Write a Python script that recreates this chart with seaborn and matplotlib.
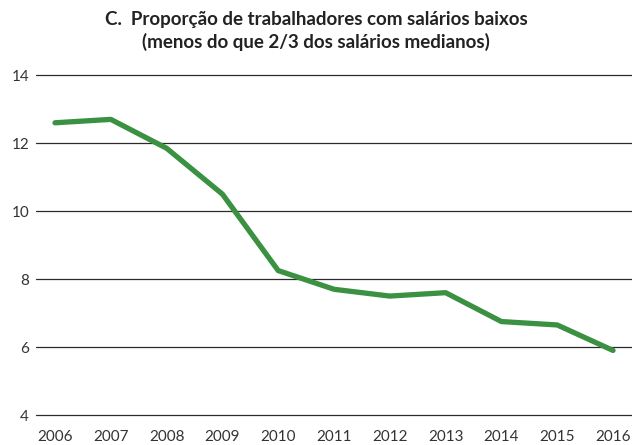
import matplotlib
matplotlib.use("Agg")
import matplotlib.pyplot as plt
import seaborn as sns
import pandas as pd

# Share of workers earning less than two thirds of the median wage (%)
years = [2006, 2007, 2008, 2009, 2010, 2011, 2012, 2013, 2014, 2015, 2016]
low_pay_share = [12.6, 12.7, 11.85, 10.5, 8.25, 7.7, 7.5, 7.6, 6.75, 6.65, 5.9]
y_ticks = [4, 6, 8, 10, 12, 14]

title = ("C.  Proporção de trabalhadores com salários baixos\n"
         "(menos do que 2/3 dos salários medianos)")

sns.set_theme(style="white")
plt.rcParams["font.family"] = ["Lato", "DejaVu Sans"]

df = pd.DataFrame({"ano": years, "percentagem": low_pay_share})

fig = plt.figure(figsize=(6.32, 4.45), dpi=100)
ax = fig.add_axes([0.057, 0.0674, 0.943, 0.7636])

sns.lineplot(data=df, x="ano", y="percentagem", ax=ax,
             color="#3a9142", linewidth=3.8, solid_capstyle="round",
             solid_joinstyle="round", zorder=3)

ax.set_ylim(4, 14)
ax.set_xlim(2005.66, 2016.34)
ax.set_yticks(y_ticks)
ax.set_yticklabels([str(t) for t in y_ticks])
ax.set_xticks(years)
ax.set_xticklabels([str(y) for y in years])

for t in y_ticks:
    ax.axhline(t, color="#2b2b2b", linewidth=0.9, zorder=1, clip_on=False)

for s in ax.spines.values():
    s.set_visible(False)

ax.tick_params(axis="y", length=0, pad=5, labelsize=11, labelcolor="#333333")
ax.tick_params(axis="x", length=0, pad=11, labelsize=11, labelcolor="#333333")
ax.set_xlabel("")
ax.set_ylabel("")
ax.grid(False)

fig.text(0.5, 0.975, title, ha="center", va="top", fontsize=13.5,
         fontweight="bold", color="#222222", linespacing=1.35)

fig.savefig("out.png", dpi=100)
